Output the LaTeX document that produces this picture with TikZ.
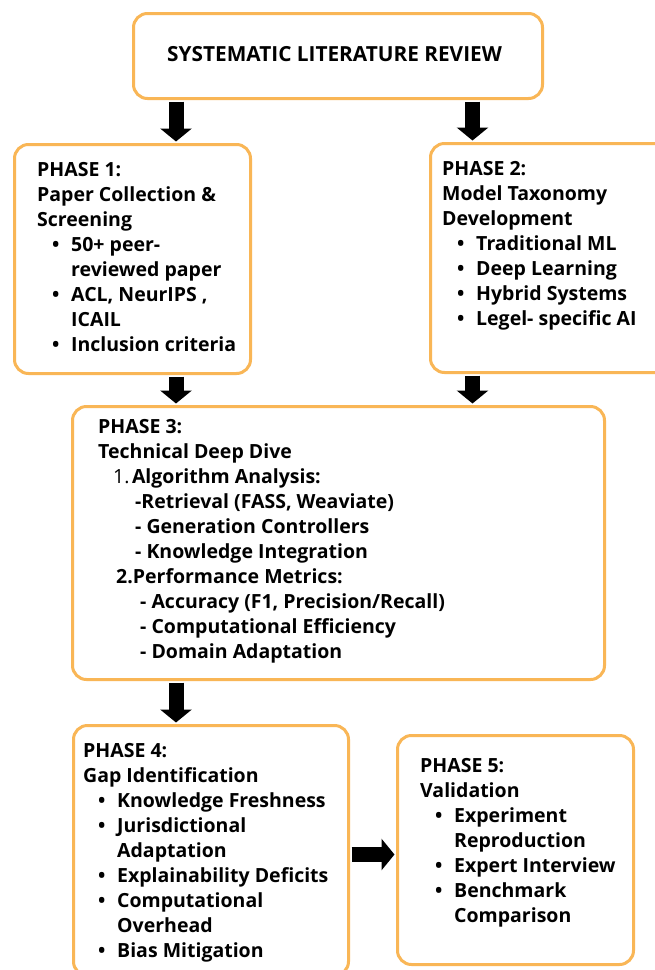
\documentclass[tikz,border=0pt]{standalone}
\usepackage{fontspec}
\setmainfont{Open Sans}
\usetikzlibrary{arrows.meta}
\definecolor{bord}{HTML}{F9B656}
\newcommand\bl{\hspace*{15pt}\makebox[19pt][l]{\textbullet}}
\newcommand\cn{\hspace*{34pt}}
\begin{document}
\begin{tikzpicture}[x=1pt,y=-1pt,
  box/.style={draw=bord, line width=3pt, rounded corners=14pt, fill=white, anchor=north west, inner sep=0pt},
  txt/.style={anchor=north west, inner sep=0pt, align=left, font=\fontsize{19.5}{25}\selectfont\bfseries},
  bigarrow/.style={line width=15pt, -{Triangle[width=31pt,length=13pt]}}]
\clip (0,0) rectangle (655,970);
\fill[white] (0,0) rectangle (655,970);
% boxes
\node[box, minimum width=409pt, minimum height=85pt] (top) at (132,12) {};
\node[box, minimum width=236pt, minimum height=229pt] (p1) at (13,143) {};
\node[box, minimum width=240pt, minimum height=229pt] (p2) at (429,142) {};
\node[box, minimum width=532pt, minimum height=273pt] (p3) at (71,405) {};
\node[box, minimum width=275pt, minimum height=250pt] (p4) at (72,724) {};
\node[box, minimum width=236pt, minimum height=229pt] (p5) at (396,734) {};
% texts
\node[txt, font=\fontsize{20.8}{25}\selectfont\bfseries] (ttop) at (167,46.2) {SYSTEMATIC LITERATURE REVIEW};
\node[txt] (t1) at (37,162.1) {PHASE 1:\\Paper Collection \&\\Screening\\\bl 50+ peer-\\\cn reviewed paper\\\bl ACL, NeurIPS ,\\\cn ICAIL\\\bl Inclusion criteria};
\node[txt] (t2) at (442,161.1) {PHASE 2:\\Model Taxonomy\\Development\\\bl Traditional ML\\\bl Deep Learning\\\bl Hybrid Systems\\\bl Legel- specific AI};
\node[txt] (t3) at (98,419.1) {PHASE 3:\\Technical Deep Dive\\\hspace*{15pt}{\mdseries 1.}\kern2.5pt Algorithm Analysis:\\\hspace*{37pt}-Retrieval (FASS, Weaviate)\\\hspace*{37pt}- Generation Controllers\\\hspace*{37pt}- Knowledge Integration\\\hspace*{18pt}2.Performance Metrics:\\\hspace*{42pt}- Accuracy (F1, Precision/Recall)\\\hspace*{42pt}- Computational Efficiency\\\hspace*{42pt}- Domain Adaptation};
\node[txt] (t4) at (83,743.1) {PHASE 4:\\Gap Identification\\\bl Knowledge Freshness\\\bl Jurisdictional\\\cn Adaptation\\\bl Explainability Deficits\\\bl Computational\\\cn Overhead\\\bl Bias Mitigation};
\node[txt] (t5) at (420,758.1) {PHASE 5:\\Validation\\\bl Experiment\\\cn Reproduction\\\bl Expert Interview\\\bl Benchmark\\\cn Comparison};
% arrow columns
\coordinate (ca) at (176,0);
\coordinate (cb) at (472.5,0);
\coordinate (cc) at (0,854.5);
\draw[bigarrow] ([yshift=-1.5pt]top.south -| ca) -- ([yshift=1.5pt]p1.north -| ca);
\draw[bigarrow] ([yshift=-1.5pt]top.south -| cb) -- ([yshift=1.5pt]p2.north -| cb);
\draw[bigarrow] ([yshift=-1.5pt]p1.south -| ca) -- ([yshift=1.5pt]p3.north -| ca);
\draw[bigarrow] ([yshift=-1.5pt]p2.south -| cb) -- ([yshift=1.5pt]p3.north -| cb);
\draw[bigarrow] ([yshift=-1.5pt]p3.south -| ca) -- ([yshift=1.5pt]p4.north -| ca);
\draw[bigarrow] ([xshift=1.5pt]p4.east |- cc) -- ([xshift=-1.5pt]p5.west |- cc);
\end{tikzpicture}
\end{document}
